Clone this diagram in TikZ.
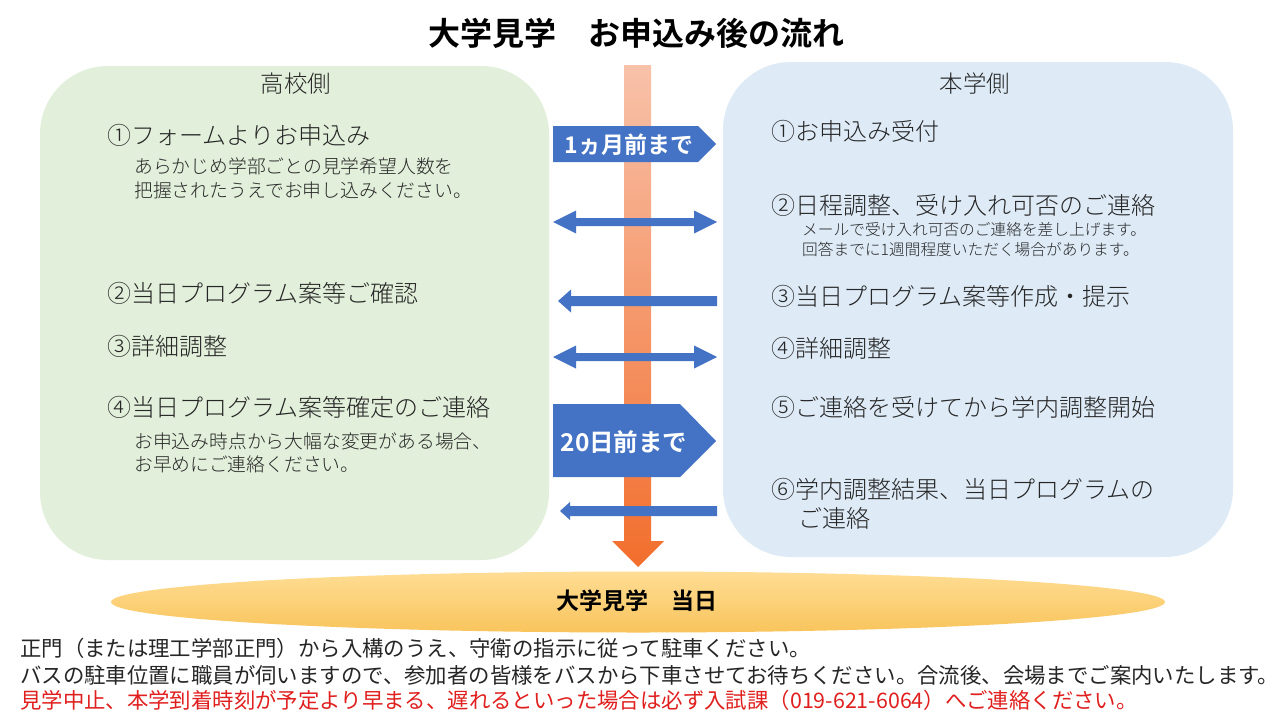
\documentclass[tikz,border=0pt]{standalone}
\usepackage{fontspec}
\setmainfont{Noto Sans CJK JP}[UprightFont={* Light},BoldFont={* Bold}]
\newfontfamily\jpreg{Noto Sans CJK JP}
\definecolor{greenbox}{HTML}{E2EFDA}
\definecolor{bluebox}{HTML}{DEEBF7}
\definecolor{arrowblue}{HTML}{4472C4}
\definecolor{orangetop}{HTML}{F8C2AA}
\definecolor{orangebot}{HTML}{F26E2C}
\definecolor{ellA}{HTML}{FFDD94}
\definecolor{ellB}{HTML}{F8C45C}
\definecolor{txt}{HTML}{262626}
\definecolor{redtxt}{HTML}{E0201E}
\tikzset{
  big/.style={anchor=west,inner sep=0pt,text=txt,font=\fontsize{24}{26}\selectfont},
  small/.style={anchor=west,inner sep=0pt,text=txt,font=\fontsize{18.8}{21}\selectfont},
  tiny/.style={anchor=west,inner sep=0pt,text=txt,font=\fontsize{15.7}{18}\selectfont},
  head/.style={inner sep=0pt,text=txt,font=\fontsize{23.5}{26}\selectfont},
  foot/.style={anchor=west,inner sep=0pt,text=txt,font=\jpreg\fontsize{21.4}{24}\selectfont},
  panel/.style={rounded corners=68pt},
  bluearrow/.style={fill=arrowblue,draw=none},
  tag/.style={inner sep=0pt,text=white,font=\bfseries}
}
\begin{document}
\begin{tikzpicture}[x=1pt,y=-1pt]
\useasboundingbox (0,0) rectangle (1280,720);
\fill[white] (0,0) rectangle (1280,720);
% title
\node[inner sep=0pt,text=black,font=\bfseries\fontsize{32}{36}\selectfont] (title) at (636,33) {大学見学　お申込み後の流れ};
% panels
\fill[greenbox,panel] (40,66) rectangle (549,560);
\fill[bluebox,panel] (723,62) rectangle (1233,557);
\node[head] (hl) at (296,84) {高校側};
\node[head] (hr) at (975,84) {本学側};
% vertical arrow
\shade[top color=orangetop,bottom color=orangebot] (624,65) -- (651,65) -- (651,541) -- (664,541) -- (638,567) -- (612,541) -- (624,541) -- cycle;
% tags
\fill[arrowblue] (553,126) -- (698,126) -- (716,144) -- (698,162) -- (553,162) -- cycle;
\node[tag,font=\bfseries\fontsize{23}{26}\selectfont] (tag1) at (629,145) {1ヵ月前まで};
\fill[arrowblue] (553,404) -- (680,404) -- (716,441) -- (680,477) -- (553,477) -- cycle;
\node[tag,font=\bfseries\fontsize{24.5}{27}\selectfont] (tag2) at (624,442) {20日前まで};
% blue arrows
\fill[bluearrow] (553,222) -- (576,210.5) -- (576,218) -- (694,218) -- (694,210.5) -- (717,222) -- (694,233.5) -- (694,226) -- (576,226) -- (576,233.5) -- cycle;
\fill[bluearrow] (558,301) -- (571,289.5) -- (571,296) -- (717,296) -- (717,306) -- (571,306) -- (571,312.5) -- cycle;
\fill[bluearrow] (553,357) -- (576,345.5) -- (576,353) -- (694,353) -- (694,345.5) -- (717,357) -- (694,368.5) -- (694,361) -- (576,361) -- (576,368.5) -- cycle;
\fill[bluearrow] (560,511) -- (570,502) -- (570,506) -- (717,506) -- (717,516) -- (570,516) -- (570,520) -- cycle;
% left texts
\node[big] (l1) at (107,135) {①フォームよりお申込み};
\node[small] (l1a) at (134,166) {あらかじめ学部ごとの見学希望人数を};
\node[small] (l1b) at (134,190) {把握されたうえでお申し込みください。};
\node[big] (l2) at (107,293) {②当日プログラム案等ご確認};
\node[big] (l3) at (107,346) {③詳細調整};
\node[big] (l4) at (107,407) {④当日プログラム案等確定のご連絡};
\node[small] (l4a) at (134,441) {お申込み時点から大幅な変更がある場合、};
\node[small] (l4b) at (134,464) {お早めにご連絡ください。};
% right texts
\node[big] (r1) at (771,131) {①お申込み受付};
\node[big] (r2) at (771,205) {②日程調整、受け入れ可否のご連絡};
\node[tiny] (r2a) at (802,230) {メールで受け入れ可否のご連絡を差し上げます。};
\node[tiny] (r2b) at (802,249) {回答までに1週間程度いただく場合があります。};
\node[big] (r3) at (771,296) {③当日プログラム案等作成・提示};
\node[big] (r4) at (771,348) {④詳細調整};
\node[big] (r5) at (771,407) {⑤ご連絡を受けてから学内調整開始};
\node[big] (r6) at (771,489) {⑥学内調整結果、当日プログラムの};
\node[big] (r6b) at (798,518) {ご連絡};
% ellipse
\shade[top color=ellA,bottom color=ellB] (638,602) ellipse [x radius=527,y radius=30.5];
\node[inner sep=0pt,text=black,font=\bfseries\fontsize{23}{26}\selectfont] (day) at (637,601) {大学見学　当日};
% footer
\node[foot] (f1) at (20,648) {正門（または理工学部正門）から入構のうえ、守衛の指示に従って駐車ください。};
\node[foot] (f2) at (20,675) {バスの駐車位置に職員が伺いますので、参加者の皆様をバスから下車させてお待ちください。合流後、会場までご案内いたします。};
\node[foot,text=redtxt] (f3) at (20,700) {見学中止、本学到着時刻が予定より早まる、遅れるといった場合は必ず入試課（019-621-6064）へご連絡ください。};
\end{tikzpicture}
\end{document}
